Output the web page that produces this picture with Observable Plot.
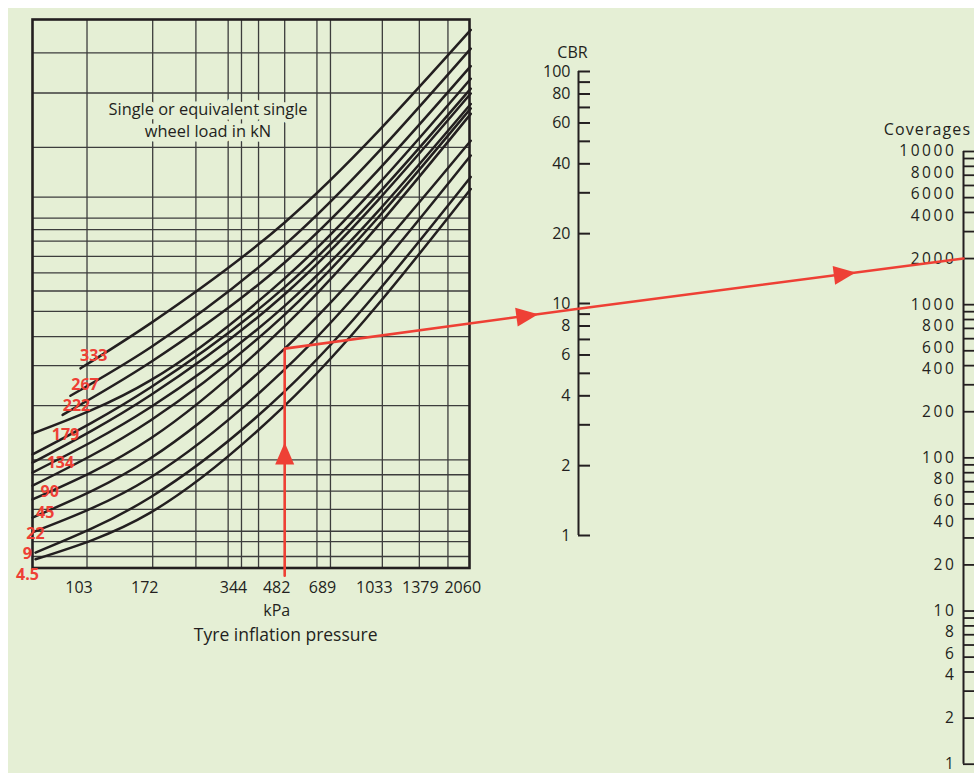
<!DOCTYPE html>
<html><head><meta charset="utf-8">
<script src="https://cdn.jsdelivr.net/npm/d3@7"></script>
<script src="https://cdn.jsdelivr.net/npm/@observablehq/plot@0.6"></script>
<style>
html,body{margin:0;padding:0;background:#fff;}
#chart{position:relative;width:974px;height:773px;background:#fff;overflow:hidden;}
#panel{position:absolute;left:8px;top:8px;right:0;bottom:0;background:#e5efd5;}
#chart svg{position:absolute;left:0;top:0;}
</style></head><body><div id="chart"><div id="panel"></div></div>
<script>
// ---------- data ----------
// Left chart: x = tyre inflation pressure (kPa, log), y = unlabelled pivot index (0-100)
const pressureTicks = [103, 172, 344, 482, 689, 1033, 1379, 2060];
const pressureGrid = [103, 172, 241, 310, 344, 393, 482, 620, 689, 1033, 1379, 1724];
const indexGrid = [2.1, 4.8, 6.7, 10.7, 14.0, 17.0, 19.7, 29.6, 36.9, 42.2, 46.8, 50.5, 53.8, 56.8, 59.6, 61.7, 63.8, 67.6, 76.7, 86.6, 93.9];

// wheel-load curves (top to bottom), read at start, 169 kPa, 482 kPa, 2060 kPa
const curveIds = ["c1","c2","c3","c4","c5","c6","c7","c8","c9","c10","c11","c12","c13"];
const curveStartKPa = [97.9, 90.5, 85.1, 67.3, 67.3, 67.3, 67.3, 67.3, 67.3, 67.3, 67.3, 68.9, 68.9];
const curveStartIdx = [36.4, 31.4, 27.9, 24.5, 20.7, 19.2, 17.4, 15.0, 12.5, 9.2, 6.5, 2.8, 1.6];
const samplePressures = [169, 482, 2060];
const curveAt169 = [44.6, 40.2, 37.5, 34.2, 32.9, 31.5, 29.3, 26.9, 23.6, 20.0, 16.5, 12.9, 10.1];
const curveAt482 = [63.0, 58.9, 55.7, 52.8, 51.2, 49.9, 47.8, 46.2, 44.1, 40.0, 36.2, 32.2, 29.6];
const curveAt2060 = [98.1, 94.7, 91.5, 89.2, 87.4, 86.5, 84.6, 83.8, 82.8, 77.9, 75.2, 71.3, 69.1];

// load labels (kN) and where they sit
const loadLabels = ["333", "267", "222", "179", "134", "90", "45", "22", "9", "4.5"];
const loadLabelKPa = [108.6, 101.4, 94.9, 87.1, 83.7, 77.0, 74.3, 68.9, 64.6, 64.7];
const loadLabelIdx = [38.6, 33.3, 29.5, 24.3, 19.1, 13.8, 10.0, 6.3, 2.6, -1.2];

// CBR scale
const cbrTicks = [1,2,3,4,5,6,7,8,9,10,20,30,40,50,60,70,80,90,100];
const cbrLabels = [1,2,4,6,8,10,20,40,60,80,100];

// Coverages scale
const covTicks = [1,2,3,4,5,6,7,8,9,10,20,30,40,50,60,70,80,90,100,200,300,400,500,600,700,800,900,1000,2000,3000,4000,5000,6000,7000,8000,9000,10000];
const covLabels = [10000,8000,6000,4000,2000,1000,800,600,400,200,100,80,60,40,20,10,8,6,4,2,1];

// worked example (red construction)
const exPressure = 482;        // kPa
const exCurve = 9;             // index of the 45 kN curve
const exStartIdx = -1.4;       // just below the axis
const exCBR = 9.5;
const exCoverages = 2000;

// ---------- styles ----------
const ink = "#231f20", grid = "#3d3d3d", red = "#ee4035", bg = "#e5efd5";
const font = "'Open Sans', sans-serif";
const W = 974, H = 773;

const curvePts = curveIds.flatMap((id, i) => [
  {id, kPa: curveStartKPa[i], idx: curveStartIdx[i]},
  {id, kPa: samplePressures[0], idx: curveAt169[i]},
  {id, kPa: samplePressures[1], idx: curveAt482[i]},
  {id, kPa: samplePressures[2], idx: curveAt2060[i]}
]);

const left = Plot.plot({
  width: W, height: H,
  marginLeft: 32, marginRight: 505, marginTop: 19, marginBottom: 205.5,
  x: {type: "log", domain: [67.3, 2040], axis: null},
  y: {domain: [0, 100], axis: null},
  style: {background: "transparent", overflow: "visible", fontFamily: font, color: ink},
  marks: [
    Plot.ruleX(pressureGrid, {stroke: grid, strokeWidth: 1.3}),
    Plot.ruleY(indexGrid, {stroke: grid, strokeWidth: 1.3}),
    Plot.text(["Single or equivalent single\nwheel load in kN"], {frameAnchor: "top-left", dx: 175.5, dy: 99, textAnchor: "middle", lineAnchor: "middle", fontSize: 16.4, lineHeight: 1.34, fill: ink, stroke: bg, strokeWidth: 9}),
    Plot.line(curvePts, {x: "kPa", y: "idx", z: "id", curve: "monotone-x", stroke: ink, strokeWidth: 2.5}),
    Plot.frame({stroke: ink, strokeWidth: 2.6}),
    Plot.text(loadLabels, {x: loadLabelKPa, y: loadLabelIdx, text: d => d, fill: red, fontWeight: "bold", fontSize: 16}),
    Plot.text(pressureTicks.filter(d => d !== 1379), {x: d => d, text: d => String(d), frameAnchor: "bottom", lineAnchor: "middle", dy: 19.5, dx: -8, fontSize: 16, fill: ink}),
    Plot.text(pressureTicks.filter(d => d === 1379), {x: d => d, text: d => String(d), frameAnchor: "bottom", lineAnchor: "middle", dy: 19.5, dx: 1, fontSize: 16, fill: ink}),
    Plot.text([{t: "kPa", p: exPressure}], {x: "p", text: "t", frameAnchor: "bottom", lineAnchor: "middle", dy: 42.5, dx: -8, fontSize: 16, fill: ink}),
    Plot.text([{t: "Tyre inflation pressure", p: exPressure}], {x: "p", text: "t", frameAnchor: "bottom", lineAnchor: "middle", dy: 67.5, dx: 1, fontSize: 17.5, fill: ink})
  ]
});

const cbr = Plot.plot({
  width: W, height: H,
  marginLeft: 578, marginRight: 384, marginTop: 71, marginBottom: 238,
  x: {domain: [0, 1], axis: null},
  y: {type: "log", domain: [1, 100], axis: null},
  style: {background: "transparent", overflow: "visible", fontFamily: font, color: ink},
  marks: [
    Plot.ruleX([0], {y1: 1, y2: 100, stroke: ink, strokeWidth: 2}),
    Plot.tickY(cbrTicks, {stroke: ink, strokeWidth: 2}),
    Plot.text(cbrLabels, {y: d => d, text: d => String(d), frameAnchor: "left", dx: -8, textAnchor: "end", fontSize: 16, fill: ink}),
    Plot.text(["CBR"], {frameAnchor: "top-left", dx: -6, dy: -19, textAnchor: "middle", lineAnchor: "middle", fontSize: 16, fill: ink})
  ]
});

// coverage labels are stacked so they never touch (as in the printed scale)
const covScaleY = Plot.scale({y: {type: "log", domain: [1, 10000], range: [H - 9.3, 151]}});
const labelGap = 21.5;
let prevPx = -Infinity;
const covLabelPos = covLabels.map(v => {
  let px = covScaleY.apply(v);
  if (px < prevPx + labelGap) px = prevPx + labelGap;
  prevPx = px;
  return {label: String(v), pos: covScaleY.invert(px)};
});

const cov = Plot.plot({
  width: W, height: H,
  marginLeft: 963, marginRight: 0, marginTop: 151, marginBottom: 9.3,
  x: {domain: [0, 1], axis: null},
  y: {type: "log", domain: [1, 10000], axis: null},
  style: {background: "transparent", overflow: "visible", fontFamily: font, color: ink},
  marks: [
    Plot.ruleX([0], {y1: 1, y2: 10000, stroke: ink, strokeWidth: 2}),
    Plot.tickY(covTicks, {stroke: ink, strokeWidth: 1.8}),
    Plot.text(covLabelPos, {y: "pos", text: "label", frameAnchor: "left", dx: -7, textAnchor: "end", fontSize: 15.5, fill: ink}),
    Plot.text(["Coverages"], {frameAnchor: "top-left", dx: -36, dy: -22, textAnchor: "middle", lineAnchor: "middle", fontSize: 16, fill: ink})
  ]
});
d3.select(cov).selectAll("text").style("letter-spacing", "2.6px");
d3.select(cov).selectAll("text").filter(function(){ return this.textContent === "Coverages"; }).style("letter-spacing", "1.1px");

// red worked example, positioned through the scales of the three plots
const xL = left.scale("x"), yL = left.scale("y");
const yC = cbr.scale("y"), xC = cbr.scale("x");
const yV = cov.scale("y"), xV = cov.scale("x");
const P = [
  {x: xL.apply(exPressure), y: yL.apply(exStartIdx)},
  {x: xL.apply(exPressure), y: yL.apply(curveAt482[exCurve])},
  {x: xC.apply(0), y: yC.apply(exCBR)},
  {x: xV.apply(0), y: yV.apply(exCoverages)}
];
const headLen = 22;
function head(a, b, t) {
  const len = Math.hypot(b.x - a.x, b.y - a.y);
  const ux = (b.x - a.x) / len, uy = (b.y - a.y) / len;
  const tx = a.x + (b.x - a.x) * t, ty = a.y + (b.y - a.y) * t;
  return {x: tx - ux * headLen, y: ty - uy * headLen, rotate: Math.atan2(ux, -uy) * 180 / Math.PI};
}
const heads = [head(P[0], P[1], 0.586), head(P[1], P[2], 0.863), head(P[2], P[3], 0.72)];
const tri = {draw(ctx, l, r) { ctx.moveTo(-r, 0); ctx.lineTo(0, -l); ctx.lineTo(r, 0); ctx.closePath(); }};

const overlay = Plot.plot({
  width: W, height: H, margin: 0,
  x: {type: "identity", axis: null},
  y: {type: "identity", axis: null},
  style: {background: "transparent", overflow: "visible"},
  marks: [
    Plot.line(P, {x: "x", y: "y", stroke: red, strokeWidth: 2.6, strokeLinejoin: "miter"}),
    Plot.vector(heads, {x: "x", y: "y", rotate: "rotate", length: headLen, r: 9.5, shape: tri, anchor: "start", fill: red, stroke: "none"})
  ]
});

const chart = document.getElementById("chart");
chart.append(left, cbr, cov, overlay);
</script></body></html>
